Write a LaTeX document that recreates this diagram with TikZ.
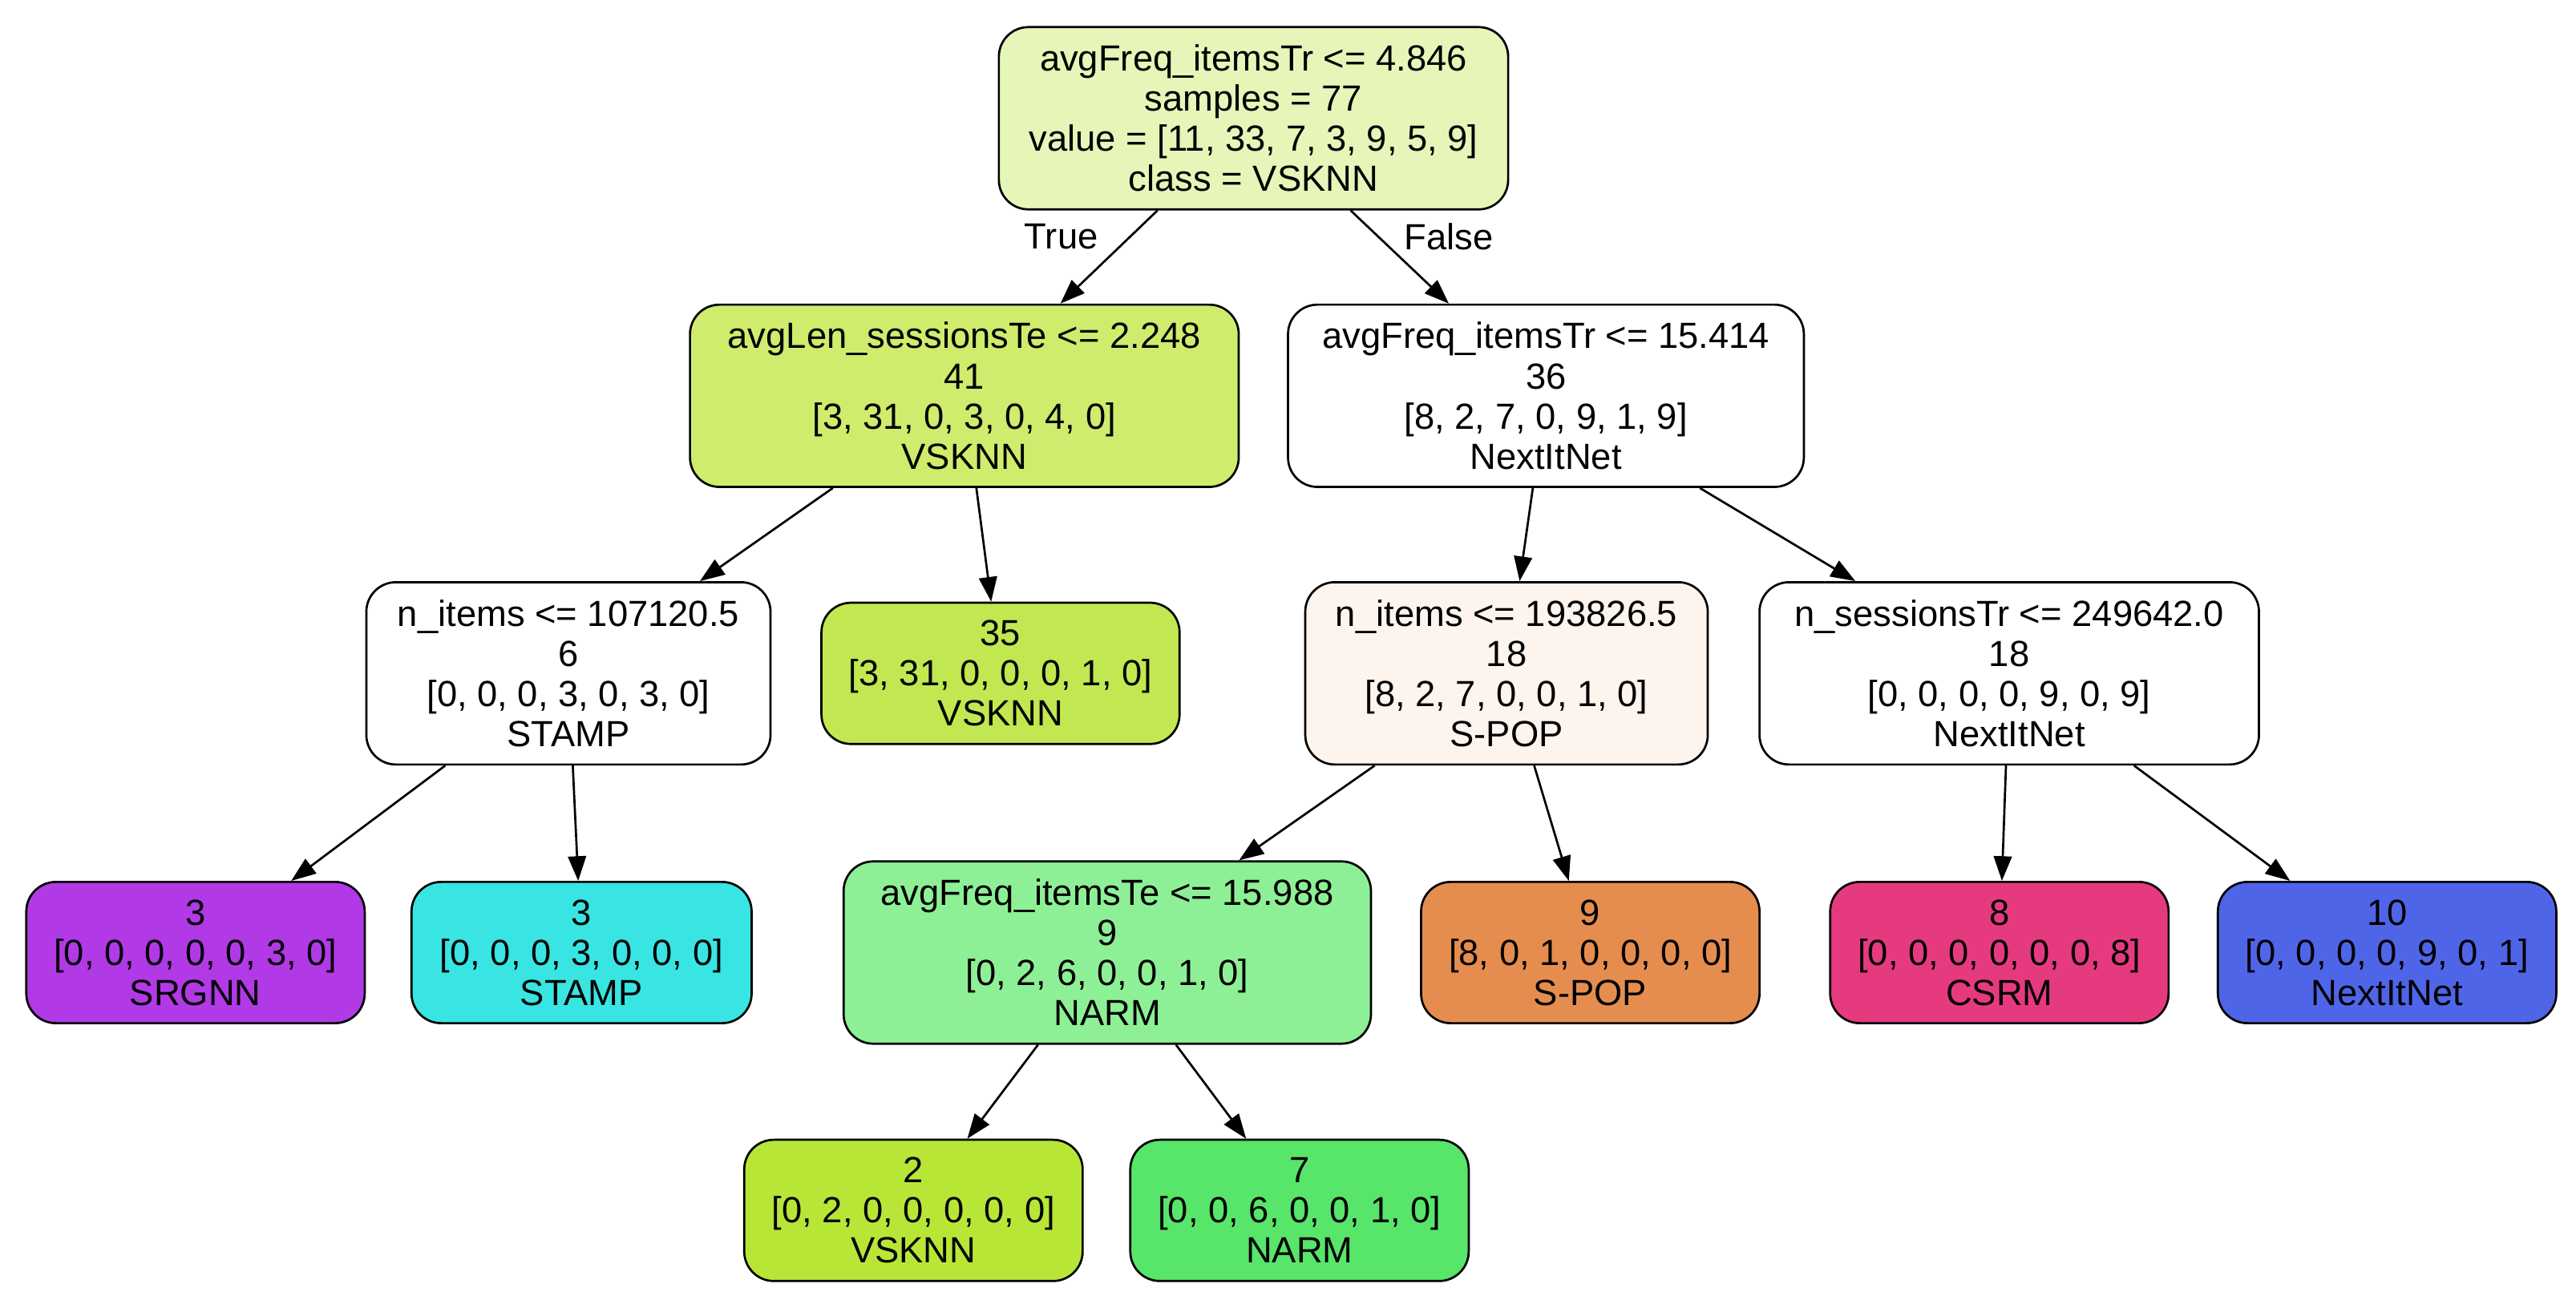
\documentclass[tikz,border=0pt]{standalone}
\usepackage{fontspec}
\setmainfont{Liberation Sans}
\usetikzlibrary{arrows.meta}
\definecolor{cRoot}{HTML}{E6F6B9}
\definecolor{cA}{HTML}{CFEC6C}
\definecolor{cB}{HTML}{C1E850}
\definecolor{cC}{HTML}{FDF4EE}
\definecolor{cD}{HTML}{B139E6}
\definecolor{cE}{HTML}{39E5E2}
\definecolor{cF}{HTML}{8EF096}
\definecolor{cG}{HTML}{E58D4F}
\definecolor{cH}{HTML}{E53A80}
\definecolor{cI}{HTML}{4F65E8}
\definecolor{cJ}{HTML}{B8E637}
\definecolor{cK}{HTML}{57E56A}
\begin{document}
\begin{tikzpicture}[x=0.02cm,y=-0.02cm,
  box/.style={draw=black,line width=0.75pt,rounded corners=0.36cm,align=center,
    font=\fontsize{12.6}{13.9}\selectfont,inner sep=0pt},
  big/.style={box,minimum height=111*0.02cm},
  small/.style={box,minimum height=86*0.02cm},
  edge/.style={line width=0.75pt,-{Triangle[length=0.3cm,width=0.22cm]}},
  lbl/.style={font=\fontsize{12.6}{13.9}\selectfont}]
\useasboundingbox (0,0) rectangle (1568,794);
\node[big,fill=cRoot,minimum width=310*0.02cm] (r) at (763,72) {avgFreq\_itemsTr <= 4.846\\samples = 77\\value = [11, 33, 7, 3, 9, 5, 9]\\class = VSKNN};
\node[big,fill=cA,minimum width=334*0.02cm] (n1) at (587,241) {avgLen\_sessionsTe <= 2.248\\41\\{}[3, 31, 0, 3, 0, 4, 0]\\VSKNN};
\node[big,fill=white,minimum width=314*0.02cm] (n2) at (941,241) {avgFreq\_itemsTr <= 15.414\\36\\{}[8, 2, 7, 0, 9, 1, 9]\\NextItNet};
\node[big,fill=white,minimum width=246*0.02cm] (n3) at (346,410) {n\_items <= 107120.5\\6\\{}[0, 0, 0, 3, 0, 3, 0]\\STAMP};
\node[small,fill=cB,minimum width=218*0.02cm] (n4) at (609,410) {35\\{}[3, 31, 0, 0, 0, 1, 0]\\VSKNN};
\node[big,fill=cC,minimum width=245*0.02cm] (n5) at (917,410) {n\_items <= 193826.5\\18\\{}[8, 2, 7, 0, 0, 1, 0]\\S-POP};
\node[big,fill=white,minimum width=304*0.02cm] (n6) at (1223,410) {n\_sessionsTr <= 249642.0\\18\\{}[0, 0, 0, 0, 9, 0, 9]\\NextItNet};
\node[small,fill=cD,minimum width=206*0.02cm] (n7) at (119,580) {3\\{}[0, 0, 0, 0, 0, 3, 0]\\SRGNN};
\node[small,fill=cE,minimum width=207*0.02cm] (n8) at (354,580) {3\\{}[0, 0, 0, 3, 0, 0, 0]\\STAMP};
\node[big,fill=cF,minimum width=321*0.02cm] (n9) at (674,580) {avgFreq\_itemsTe <= 15.988\\9\\{}[0, 2, 6, 0, 0, 1, 0]\\NARM};
\node[small,fill=cG,minimum width=206*0.02cm] (n10) at (968,580) {9\\{}[8, 0, 1, 0, 0, 0, 0]\\S-POP};
\node[small,fill=cH,minimum width=206*0.02cm] (n11) at (1217,580) {8\\{}[0, 0, 0, 0, 0, 0, 8]\\CSRM};
\node[small,fill=cI,minimum width=206*0.02cm] (n12) at (1453,580) {10\\{}[0, 0, 0, 0, 9, 0, 1]\\NextItNet};
\node[small,fill=cJ,minimum width=206*0.02cm] (n13) at (556,737) {2\\{}[0, 2, 0, 0, 0, 0, 0]\\VSKNN};
\node[small,fill=cK,minimum width=206*0.02cm] (n14) at (791,737) {7\\{}[0, 0, 6, 0, 0, 1, 0]\\NARM};
\draw[edge] (r) -- (n1);
\draw[edge] (r) -- (n2);
\node[lbl] (t) at (646,144) {True};
\node[lbl] (f) at (882,144) {False};
\draw[edge] (n1) -- (n3);
\draw[edge] (n1) -- (n4);
\draw[edge] (n2) -- (n5);
\draw[edge] (n2) -- (n6);
\draw[edge] (n3) -- (n7);
\draw[edge] (n3) -- (n8);
\draw[edge] (n5) -- (n9);
\draw[edge] (n5) -- (n10);
\draw[edge] (n6) -- (n11);
\draw[edge] (n6) -- (n12);
\draw[edge] (n9) -- (n13);
\draw[edge] (n9) -- (n14);
\end{tikzpicture}
\end{document}
